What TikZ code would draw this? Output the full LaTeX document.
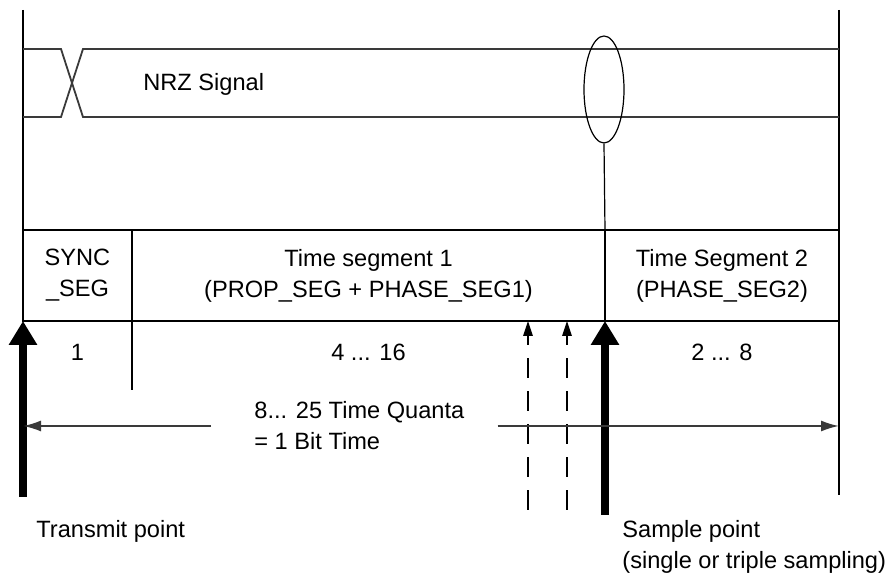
\documentclass[tikz,border=0pt]{standalone}
\usepackage{fontspec}
\setmainfont{Liberation Sans}
\usetikzlibrary{arrows.meta,positioning,calc,shapes.geometric}
\definecolor{sgray}{HTML}{3A3A3A}

\begin{document}
\begin{tikzpicture}[x=0.5pt,y=-0.5pt,
  lbl/.style={font=\fontsize{11.8}{15.5}\selectfont, inner sep=0pt},
  cell/.style={lbl, draw, line width=0.7pt, outer sep=0pt, minimum height=45.5pt, align=center},
  frame/.style={black, line width=0.7pt},
  sigline/.style={sgray, line width=0.9pt},
  bigarrow/.style={-{Triangle[length=12pt,width=13.5pt]}, line width=4pt},
  tryarrow/.style={-{Triangle[length=7.5pt,width=4.8pt]}, line width=0.6pt, dash pattern=on 10pt off 6.5pt},
  span/.style={-{Latex[length=9pt,width=5.5pt]}, sgray, line width=0.9pt}]
 \useasboundingbox (0,0) rectangle (890,576);
 \node[cell, anchor=north west, minimum width=54.5pt] (sync) at (23,230) {SYNC\\\_SEG};
 \node[cell, right=0pt of sync, minimum width=236.5pt] (seg1) {Time segment 1\\(PROP\_SEG + PHASE\_SEG1)};
 \node[cell, right=0pt of seg1, minimum width=117pt] (seg2) {Time Segment 2\\(PHASE\_SEG2)};
 \node[lbl] (nsync) at ([yshift=-15.5pt]sync.south) {1};
 \node[lbl] (nseg1) at ([yshift=-15.5pt]seg1.south) {4 ... 16};
 \node[lbl] (nseg2) at ([yshift=-15.5pt]seg2.south) {2 ... 8};
 \coordinate (ltop) at (23,10);
 \coordinate (rtop) at (839,10);
 \coordinate (rbot) at (839,495);
 \draw[frame] (ltop) -- (sync.north west);
 \draw[frame] (rtop) -- (rbot);
 \draw[frame] (sync.south east) -- ++(0,69);
 \draw[sigline] (23,49) -- (61,49) -- (83,117) -- (839,117);
 \draw[sigline] (23,117) -- (61,117) -- (83,49) -- (839,49);
 \node[lbl, anchor=west] (nrz) at (143,84) {NRZ Signal};
 \node[draw, ellipse, line width=0.6pt, minimum width=20pt, minimum height=53.5pt, inner sep=0pt] (probe) at (604,89.5) {};
 \draw[frame, line width=0.6pt] (probe.south) -- (seg2.north west);
 \coordinate (txbase) at (23,497);
 \coordinate (smbase) at (605,515);
 \draw[bigarrow] (txbase) -- (sync.south west);
 \draw[bigarrow] (smbase) -- (seg2.south west);
 \foreach \x/\n in {528/a,567/b}{
   \coordinate (try\n) at (\x,510);
   \draw[tryarrow] (try\n) -- (try\n |- seg1.south);
 }
 \node[lbl, anchor=west, align=left] (quanta) at (254,426) {8... 25 Time Quanta\\= 1 Bit Time};
 \draw[span] ([xshift=-21.5pt]quanta.west) -- (quanta.west -| ltop);
 \draw[span] ([xshift=16.5pt]quanta.east) -- (quanta.east -| rbot);
 \node[lbl, anchor=west] (txlbl) at (36,531) {Transmit point};
 \node[lbl, anchor=west, align=left] (smlbl) at (622,547) {Sample point\\(single or triple sampling)};
\end{tikzpicture}
\end{document}
